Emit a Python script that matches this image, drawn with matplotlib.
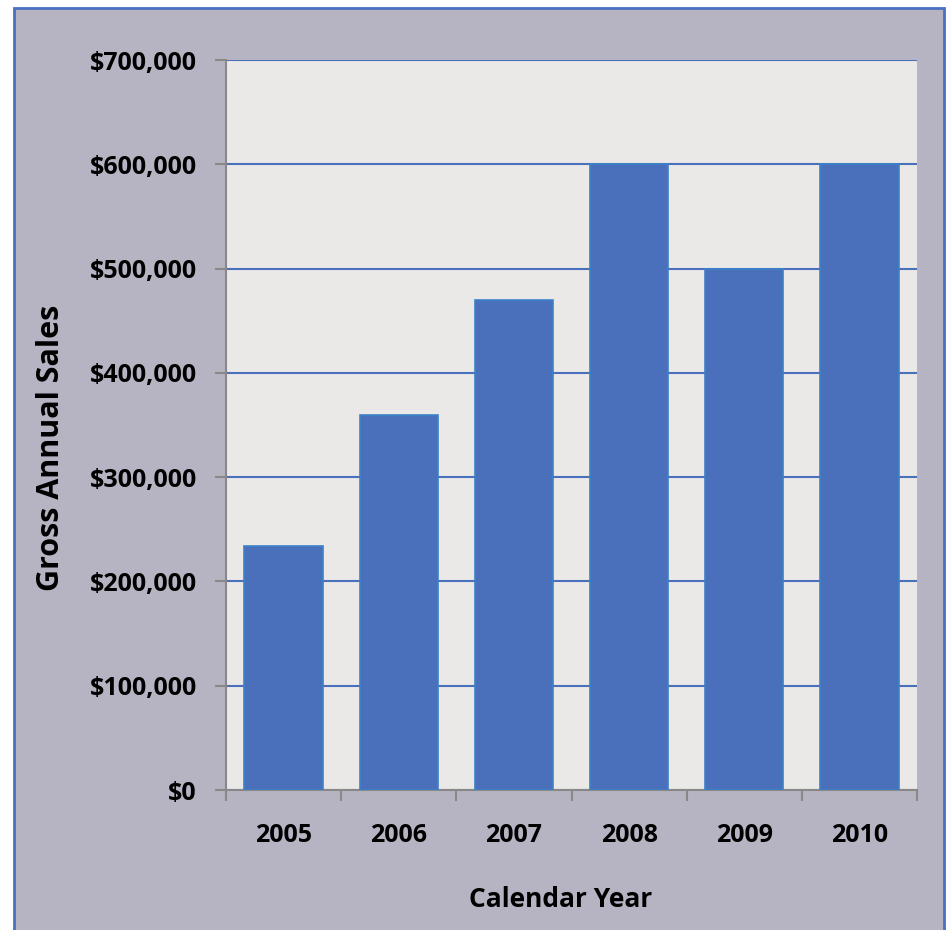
import matplotlib
matplotlib.use("Agg")
import matplotlib.pyplot as plt
from matplotlib.patches import Rectangle
from matplotlib.ticker import FuncFormatter

years = ["2005", "2006", "2007", "2008", "2009", "2010"]
sales = [234000, 360000, 470000, 600000, 500000, 600000]
yticks = [0, 100000, 200000, 300000, 400000, 500000, 600000, 700000]

plt.rcParams['font.family'] = ['Open Sans', 'DejaVu Sans']
plt.rcParams['font.weight'] = 'bold'

fig = plt.figure(figsize=(9.5, 9.3), dpi=100)
fig.patch.set_facecolor("white")

# outer chart area with blue border
fig.patches.append(Rectangle((14/950, -0.01), (944-14)/950, 1.01 - 8/930,
                             transform=fig.transFigure, facecolor="#b6b4c3",
                             edgecolor="#4a70c0", linewidth=2, zorder=-10))

ax = fig.add_axes([226/950, 140/930, 691/950, 730/930])
ax.set_facecolor("#ebe9e8")

x = range(len(years))
ax.bar(x, sales, width=0.68, color="#4a6fbb", edgecolor="#3b82c8",
       linewidth=1.2, zorder=3)

ax.set_xlim(-0.5, len(years) - 0.5)
ax.set_ylim(0, 700000)
ax.set_yticks(yticks)
ax.yaxis.set_major_formatter(FuncFormatter(lambda v, p: "${:,.0f}".format(v)))
ax.yaxis.grid(True, color="#4a6fbb", linewidth=1.5, zorder=1)
ax.set_axisbelow(True)

ax.set_xticks(list(x))
ax.set_xticklabels(years)
ax.set_xticks([i - 0.5 for i in range(len(years) + 1)], minor=True)
ax.tick_params(axis="x", which="major", length=0, pad=24, labelsize=18)
ax.tick_params(axis="x", which="minor", length=8, color="#888888", width=1.5,
               direction="out")
ax.tick_params(axis="y", length=8, color="#888888", width=1.5, pad=13,
               labelsize=18)

for s in ["top", "right"]:
    ax.spines[s].set_visible(False)
for s in ["left", "bottom"]:
    ax.spines[s].set_color("#888888")
    ax.spines[s].set_linewidth(1.5)

ax.set_xlabel("Calendar Year", fontsize=19, fontweight="bold")
ax.xaxis.set_label_coords(0.484, -0.132)
ax.set_ylabel("Gross Annual Sales", fontsize=22, fontweight="bold")
ax.yaxis.set_label_coords(-0.231, 0.468)

fig.savefig("out.png", dpi=100)
